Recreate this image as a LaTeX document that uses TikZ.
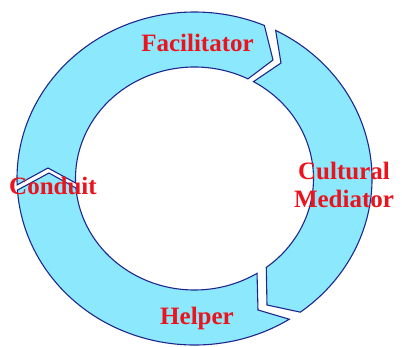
\documentclass[tikz,border=0pt]{standalone}
\usepackage{fontspec}
\setmainfont{Liberation Serif}
\usetikzlibrary{calc}
\definecolor{ringfill}{RGB}{140,232,252}
\definecolor{ringline}{RGB}{30,40,140}
\definecolor{labelred}{RGB}{235,20,30}
\begin{document}
\begin{tikzpicture}[x=1pt,y=1pt,
  seg/.style={fill=ringfill,draw=ringline,line width=1.1pt,line join=miter},
  lbl/.style={text=labelred,font=\fontsize{25}{28}\selectfont\bfseries,inner sep=0pt,align=center}]
\useasboundingbox (0,0) rectangle (402,-347);
\coordinate (C) at (194.5,-178.5);
% tips and notches of the chevrons
\coordinate (Ft) at (273,-60);
\coordinate (Mn) at (281,-63);
\coordinate (Mt) at (267,-305);
\coordinate (Hn) at (258,-310);
\coordinate (Ct) at (49,-173);
\coordinate (Fn) at (48,-168);
% Facilitator segment
\path[seg] ($(C)+(182.2:177.5pt and 166.5pt)$)
  arc[start angle=182.2,end angle=66.8,x radius=177.5pt,y radius=166.5pt]
  -- (Ft) -- ($(C)+(63.3:119pt and 111.5pt)$)
  arc[start angle=63.3,end angle=182.3,x radius=119pt,y radius=111.5pt]
  -- (Fn) -- cycle;
% Cultural Mediator segment
\path[seg] ($(C)+(62.8:177.5pt and 166.5pt)$)
  arc[start angle=62.8,end angle=-53.4,x radius=177.5pt,y radius=166.5pt]
  -- (Mt) -- ($(C)+(-52.9:119pt and 111.5pt)$)
  arc[start angle=-52.9,end angle=60.3,x radius=119pt,y radius=111.5pt]
  -- (Mn) -- cycle;
% Helper / Conduit segment
\path[seg] ($(C)+(-57.7:177.5pt and 166.5pt)$)
  arc[start angle=-57.7,end angle=-176,x radius=177.5pt,y radius=166.5pt]
  -- (Ct) -- ($(C)+(-175.1:119pt and 111.5pt)$)
  arc[start angle=-175.1,end angle=-58.3,x radius=119pt,y radius=111.5pt]
  -- (Hn) -- cycle;
% labels
\node[lbl,anchor=base] (fac) at (197.5,-52) {Facilitator};
\node[lbl,anchor=base] (hel) at (197,-325) {Helper};
\node[lbl,anchor=base] (con) at (53,-195) {Conduit};
\node[lbl] (cul) at (344,-185) {Cultural\\Mediator};
\end{tikzpicture}
\end{document}
